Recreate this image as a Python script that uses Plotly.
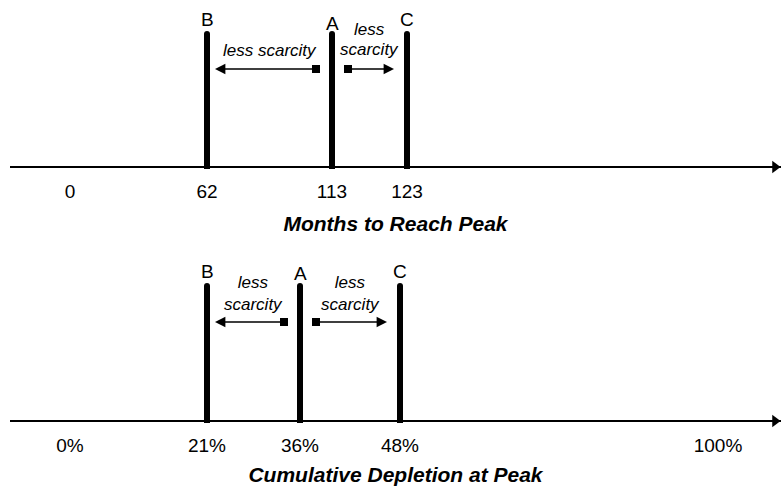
import numpy as np
import plotly.graph_objects as go

# ---------------- data ----------------
scenarios = ["B", "A", "C"]
months_to_peak = [62, 113, 123]
depletion_at_peak = [21, 36, 48]

month_ticks = [0, 62, 113, 123]
month_tick_labels = ["0", "62", "113", "123"]
depletion_ticks = [0, 21, 36, 48, 100]
depletion_tick_labels = ["0%", "21%", "36%", "48%", "100%"]

# ---------------- layout (schematic placement) ----------------
W, H = 781, 489
month_slots = [70, 207, 332, 407]          # schematic horizontal slots of the ticks
depletion_slots = [70, 207, 300, 400, 718]
FONT = "Arial, Liberation Sans, sans-serif"

panels = [
    dict(axis="x", values=months_to_peak, ticks=month_ticks, slots=month_slots,
         labels=month_tick_labels, title="Months to Reach Peak",
         line_y=167, bar_top=34, letter_y=[19, 23, 19], arrow_y=69,
         text=[("less scarcity", None, 50), ("less", 0, 29), ("scarcity", 0, 49)]),
    dict(axis="x2", values=depletion_at_peak, ticks=depletion_ticks, slots=depletion_slots,
         labels=depletion_tick_labels, title="Cumulative Depletion at Peak",
         line_y=421, bar_top=286, letter_y=[271, 273, 271], arrow_y=322,
         text=[("less<br>scarcity", None, 293), ("less<br>scarcity", 0, 293)]),
]

fig = go.Figure()
annotations = []

for p in panels:
    xs = np.interp(p["values"], p["ticks"], p["slots"])
    xb, xa, xc = xs
    # thick scenario bars
    bx, by = [], []
    for x in xs:
        bx += [x, x, None]
        by += [p["bar_top"], p["line_y"] + 2, None]
    fig.add_trace(go.Scatter(x=bx, y=by, mode="lines", xaxis=p["axis"], yaxis="y",
                             line=dict(color="black", width=6), hoverinfo="skip",
                             cliponaxis=False))
    fig.add_trace(go.Scatter(x=list(xs), y=[p["bar_top"]] * 3, mode="markers",
                             xaxis=p["axis"], yaxis="y", cliponaxis=False,
                             marker=dict(symbol="circle", size=6, color="black"),
                             hoverinfo="skip"))
    # axis arrow head
    fig.add_trace(go.Scatter(x=[775], y=[p["line_y"]], mode="markers", xaxis=p["axis"], yaxis="y",
                             cliponaxis=False,
                             marker=dict(symbol="triangle-right", size=11, color="black"),
                             hoverinfo="skip"))
    # scenario letters
    for s, x, ly in zip(scenarios, xs, p["letter_y"]):
        annotations.append(dict(x=x, y=ly, xref=p["axis"], yref="y", text=s, showarrow=False,
                                font=dict(family=FONT, size=19, color="black")))
    # "less scarcity" arrows: from A toward B and from A toward C
    ay = p["arrow_y"]
    left_tail, left_tip = xa - 16, xb + 8
    right_tail, right_tip = xa + 16, xc - 13
    fig.add_trace(go.Scatter(x=[left_tail, right_tail], y=[ay, ay], mode="markers",
                             xaxis=p["axis"], yaxis="y", cliponaxis=False,
                             marker=dict(symbol="square", size=8, color="black"),
                             hoverinfo="skip"))
    for tail, tip in [(left_tail, left_tip), (right_tail, right_tip)]:
        annotations.append(dict(x=tip, y=ay, ax=tail, ay=ay, xref=p["axis"], yref="y",
                                axref=p["axis"], ayref="y", text="", showarrow=True,
                                arrowhead=2, arrowsize=1.6, arrowwidth=1.3, arrowcolor="black"))
    # italic labels
    mid_left = (xa + xb) / 2
    mid_right = (xa + xc) / 2
    for i, (t, side, ty) in enumerate(p["text"]):
        tx = mid_left if side is None else mid_right
        annotations.append(dict(x=tx, y=ty, xref=p["axis"], yref="y", text=f"<i>{t}</i>",
                                showarrow=False, align="center",
                                font=dict(family=FONT, size=17, color="black")))


def axis_cfg(p, overlay=None, standoff=14):
    cfg = dict(
        domain=[10 / W, 1], range=[10, W], anchor="free",
        position=1 - p["line_y"] / H,
        showline=True, linecolor="black", linewidth=1.5,
        showgrid=False, zeroline=False, automargin=False,
        tickmode="array", tickvals=p["slots"], ticktext=p["labels"],
        ticks="outside", ticklen=7, tickcolor="rgba(0,0,0,0)",
        tickfont=dict(family=FONT, size=19, color="black"),
        title=dict(text=f"<b><i>{p['title']}</i></b>", standoff=standoff,
                   font=dict(family=FONT, size=21, color="black")),
        fixedrange=True,
    )
    if overlay:
        cfg["overlaying"] = overlay
    return cfg


fig.update_layout(
    width=W, height=H,
    margin=dict(l=0, r=0, t=0, b=0, autoexpand=False),
    paper_bgcolor="white", plot_bgcolor="white",
    showlegend=False,
    xaxis=axis_cfg(panels[0], standoff=15),
    xaxis2=axis_cfg(panels[1], overlay="x", standoff=12),
    yaxis=dict(range=[H, 0], domain=[0, 1], visible=False, fixedrange=True, automargin=False),
    annotations=annotations,
)

fig.write_html("out.html", config={"displayModeBar": False},
               post_script="document.body.style.margin='0';document.body.style.overflow='hidden';")
